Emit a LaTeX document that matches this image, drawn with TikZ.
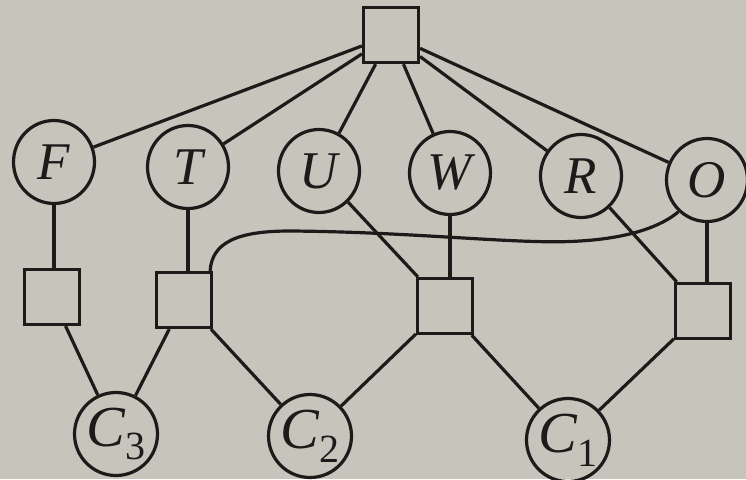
\documentclass[tikz,border=0pt]{standalone}
\usepackage{fontspec}
\setmainfont{Liberation Serif}
\usetikzlibrary{shapes.geometric}
\definecolor{paper}{RGB}{198,196,187}
\definecolor{ink}{RGB}{28,27,25}
\tikzset{
  varnode/.style={ellipse, draw=ink, line width=3.2pt, minimum width=81pt, minimum height=83pt, inner sep=0pt, font=\fontsize{53}{53}\selectfont\itshape, text=ink},
  cnode/.style={varnode, font=\fontsize{58}{58}\selectfont\itshape},
  facnode/.style={rectangle, draw=ink, line width=3.2pt, minimum size=55pt, inner sep=0pt},
  edge/.style={draw=ink, line width=3.2pt}
}
\newcommand{\subdig}[1]{\raisebox{-0.24em}{\upshape\fontsize{40}{40}\selectfont #1}}
\begin{document}
\begin{tikzpicture}[x=1pt,y=-1pt]
\fill[paper] (0,0) rectangle (746,479);
\useasboundingbox (0,0) rectangle (746,479);
% top factor
\node[facnode] (top) at (391,35) {};
% variables
\node[varnode] (F) at (54,162) {F};
\node[varnode] (T) at (188,167) {T};
\node[varnode] (U) at (319,171) {U};
\node[varnode] (W) at (450,173) {W};
\node[varnode] (R) at (581,176) {R};
\node[varnode] (O) at (707,180) {O};
% factors
\node[facnode] (s1) at (52,297) {};
\node[facnode] (s2) at (184,300) {};
\node[facnode] (s3) at (445,306) {};
\node[facnode] (s4) at (703,311) {};
% C nodes
\node[cnode] (C3) at (116,434) {C\subdig{3}};
\node[cnode] (C2) at (310,436) {C\subdig{2}};
\node[cnode] (C1) at (568,440) {C\subdig{1}};
% edges from top
\foreach \v in {F,T,U,W,R,O} \draw[edge] (top) -- (\v);
% vertical links
\draw[edge] (F.south) -- (F.south |- s1.north);
\draw[edge] (T.south) -- (T.south |- s2.north);
\draw[edge] (W.south) -- (W.south |- s3.north);
\draw[edge] (O.south) -- (O.south |- s4.north);
% diagonals
\draw[edge] (U) -- (s3);
\draw[edge] (R) -- (s4);
% curve from O to s2
\draw[edge] ([xshift=-3pt]s2.north east) .. controls (212,243) and (236,231) .. (290,231)
  .. controls (420,232) and (520,245) .. (580,241)
  .. controls (630,238) and (662,226) .. (O.228);
% bottom links
\draw[edge] (s1) -- (C3);
\draw[edge] (s2) -- (C3);
\draw[edge] (s2) -- (C2);
\draw[edge] (s3) -- (C2);
\draw[edge] (s3) -- (C1);
\draw[edge] (s4) -- (C1);
\end{tikzpicture}
\end{document}
